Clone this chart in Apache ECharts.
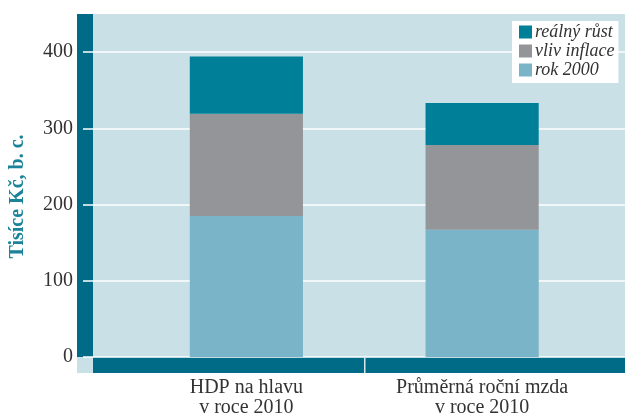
<!DOCTYPE html>
<html>
<head>
<meta charset="utf-8">
<script src="https://cdn.jsdelivr.net/npm/echarts@6/dist/echarts.min.js"></script>
<style>
  html, body { margin: 0; padding: 0; background: #fff; }
  #chart { width: 625px; height: 420px; }
</style>
</head>
<body>
<div id="chart"></div>
<script>
const categories = ['HDP na hlavu\nv roce 2010', 'Průměrná roční mzda\nv roce 2010'];
const rok2000 = [185, 167];
const vlivInflace = [134, 111];
const realnyRust = [75, 55];
const yTicks = [0, 100, 200, 300, 400];

const dark = '#006b87';
const bgLight = '#c8e0e6';
const font = '"Liberation Serif", serif';

const chart = echarts.init(document.getElementById('chart'));

chart.setOption({
  animation: false,
  textStyle: { fontFamily: font },
  graphic: [
    // light background panel
    { type: 'rect', z: -10, shape: { x: 77, y: 14, width: 548, height: 359 }, style: { fill: bgLight } },
    // dark left band
    { type: 'rect', z: -9, shape: { x: 77, y: 14, width: 16, height: 343 }, style: { fill: dark } },
    // dark bottom band
    { type: 'rect', z: -9, shape: { x: 93, y: 357, width: 532, height: 16 }, style: { fill: dark } },
    // separator tick
    { type: 'rect', z: 5, shape: { x: 364, y: 357, width: 1.5, height: 16 }, style: { fill: '#d4e8ee' } }
  ],
  legend: {
    data: ['reálný růst', 'vliv inflace', 'rok 2000'],
    orient: 'vertical',
    left: 512,
    top: 21,
    width: 107,
    padding: [2, 4, 4, 7],
    backgroundColor: '#fff',
    icon: 'rect',
    itemWidth: 13,
    itemHeight: 13,
    itemGap: 1,
    textStyle: { fontFamily: font, fontStyle: 'italic', fontSize: 18, lineHeight: 18, color: '#333', padding: [0, 0, 0, -2] }
  },
  grid: [
    { left: 77, right: 0, top: 52, bottom: 63 },
    { left: 128.5, right: 25, top: 52, bottom: 63 }
  ],
  xAxis: [
    { type: 'value', gridIndex: 0, show: false, min: 0, max: 1 },
    {
      type: 'category',
      gridIndex: 1,
      data: categories,
      axisLine: { show: false },
      axisTick: { show: false },
      axisLabel: { fontFamily: font, fontSize: 20, lineHeight: 20, color: '#333', margin: 21 }
    }
  ],
  yAxis: [
    {
      type: 'value',
      gridIndex: 0,
      min: yTicks[0],
      max: yTicks[yTicks.length - 1],
      interval: 100,
      name: 'Tisíce Kč, b. c.',
      nameLocation: 'middle',
      nameRotate: 90,
      nameGap: 55,
      nameTextStyle: { fontFamily: font, fontSize: 20, fontWeight: 'bold', color: '#1a8399', padding: [0, 0, 0, 16] },
      axisLine: { show: false },
      axisTick: { show: false },
      axisLabel: { fontFamily: font, fontSize: 20, color: '#333', margin: 10 },
      splitLine: { show: true, lineStyle: { color: '#ffffff', width: 1.5 } }
    },
    { type: 'value', gridIndex: 1, min: 0, max: 400, show: false, splitLine: { show: false } }
  ],
  series: [
    {
      name: 'rok 2000', type: 'bar', stack: 'total', xAxisIndex: 1, yAxisIndex: 1,
      barWidth: '48%', data: rok2000, itemStyle: { color: '#79b4c8' }
    },
    {
      name: 'vliv inflace', type: 'bar', stack: 'total', xAxisIndex: 1, yAxisIndex: 1,
      barWidth: '48%', data: vlivInflace, itemStyle: { color: '#939598' }
    },
    {
      name: 'reálný růst', type: 'bar', stack: 'total', xAxisIndex: 1, yAxisIndex: 1,
      barWidth: '48%', data: realnyRust, itemStyle: { color: '#007f99' }
    }
  ]
});
</script>
</body>
</html>
